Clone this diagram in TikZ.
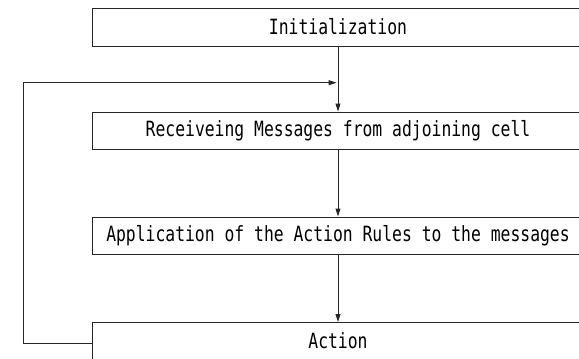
\documentclass[tikz,border=0pt]{standalone}
\usepackage{fontspec}
\newfontfamily\gothicmono[FakeStretch=0.78]{DejaVu Sans Mono}
\usetikzlibrary{arrows.meta}

\tikzset{
  stagebox/.style={draw=black!85, line width=1pt, minimum width=492pt,
    minimum height=37pt, inner sep=0pt, text=black,
    font=\gothicmono\fontsize{21pt}{24pt}\selectfont},
  flow/.style={draw=black!85, line width=1pt,
    -{Triangle[length=8pt,width=5pt]}}
}

\begin{document}
\begin{tikzpicture}[x=1pt,y=-1pt]
  \clip (0,0) rectangle (579,359);
  \fill[white] (0,0) rectangle (579,359);

  % the four stages of the cell cycle
  \node[stagebox, minimum height=38pt] (init) at (338,27) {Initialization};
  \node[stagebox] (recv) at (338,130.5) {Receiveing Messages from adjoining cell};
  \node[stagebox] (appl) at (338,235.5) {Application of the Action Rules to the messages};
  \node[stagebox] (act)  at (338,341) {Action};

  % junction where the loop re-enters the main flow
  \coordinate (join) at (338,82.7);
  \coordinate (loopbot) at (23,343);
  \coordinate (looptop) at (23,82.7);

  \draw[flow] (init) -- (recv);
  \draw[flow] (recv) -- (appl);
  \draw[flow] (appl) -- (act);

  % feedback loop from Action back to message reception
  \draw[flow, shorten >=1.5pt] (act.west |- loopbot) -- (loopbot) -- (looptop) -- (join);
\end{tikzpicture}
\end{document}
